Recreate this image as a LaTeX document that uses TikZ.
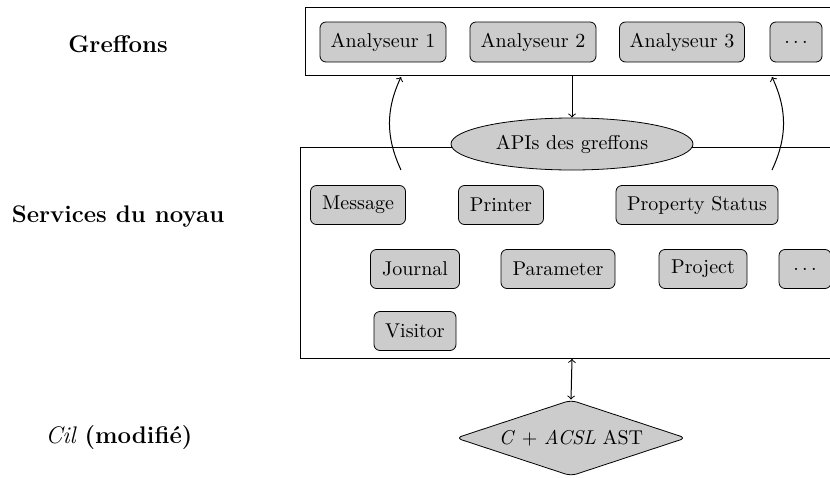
\documentclass[tikz,border=0pt]{standalone}
\usetikzlibrary{shapes.geometric}
\begin{document}
\begin{tikzpicture}[x=0.5pt,y=-0.5pt,
  mod/.style={draw, fill=black!20, rounded corners=3pt, minimum height=20pt, inner sep=1pt},
  frame/.style={draw, inner sep=0pt, anchor=north west},
  lbl/.style={font=\large\bfseries},
  arr/.style={->, line width=0.5pt}]
\useasboundingbox (0,0) rectangle (830,477);
% frames
\node[frame, minimum width=267.5pt, minimum height=34pt] (top) at (305,7) {};
\node[frame, minimum width=270pt, minimum height=105.5pt] (low) at (300,147) {};
% plugins
\node[mod, minimum width=63pt] (a1) at (383,42) {Analyseur 1};
\node[mod, minimum width=63pt] (a2) at (533,42) {Analyseur 2};
\node[mod, minimum width=62.5pt] (a3) at (682,42) {Analyseur 3};
\node[mod, minimum width=26pt] (ad) at (796,42) {$\ldots$};
% API ellipse
\node[ellipse, draw, fill=black!20, minimum width=121pt, minimum height=26pt, inner sep=0pt] (api) at (572,144) {APIs des greffons};
% services
\node[mod, minimum width=47.5pt, minimum height=19.5pt] (msg) at (358,205) {Message};
\node[mod, minimum width=42.5pt, minimum height=19.5pt] (prt) at (501,205) {Printer};
\node[mod, minimum width=81pt, minimum height=19.5pt] (ps) at (697,205) {Property Status};
\node[mod, minimum width=44.5pt, minimum height=19.5pt] (jnl) at (415,269) {Journal};
\node[mod, minimum width=57pt, minimum height=19.5pt] (par) at (558,269) {Parameter};
\node[mod, minimum width=44pt, minimum height=19.5pt] (prj) at (703,269) {Project};
\node[mod, minimum width=26pt, minimum height=19.5pt] (sd) at (805,269) {$\ldots$};
\node[mod, minimum width=41pt, minimum height=19.5pt] (vis) at (415,331) {Visitor};
% AST
\node[diamond, aspect=3, draw, fill=black!20, rounded corners=3pt, minimum width=115pt, minimum height=38pt, inner sep=0pt] (ast) at (571,438) {\textit{C} + \textit{ACSL} AST};
% left labels
\node[lbl] (g) at (118,44) {Greffons};
\node[lbl] (s) at (118,217) {Services du noyau};
\node[font=\large] (c) at (119,438) {\textit{Cil} \textbf{(modifié)}};
% connectors
\draw[arr] (api |- top.south) -- (api.north);
\draw[arr, <->] (api |- low.south) -- (ast.north);
\coordinate (l1) at (401,170);
\coordinate (l2) at (401,77);
\coordinate (r1) at (772,170);
\coordinate (r2) at (772,77);
\draw[arr] (l1) to[bend left=25] (l2);
\draw[arr] (r1) to[bend right=25] (r2);
\end{tikzpicture}
\end{document}
